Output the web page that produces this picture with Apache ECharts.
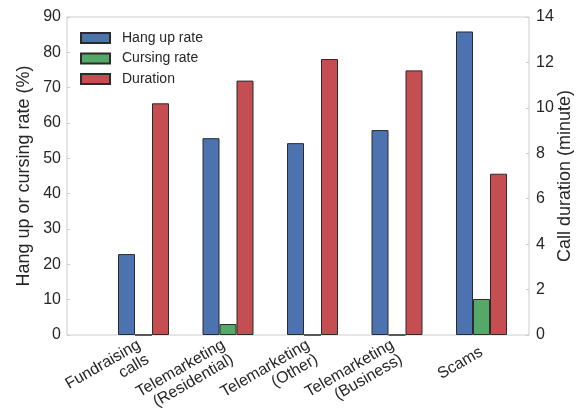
<!DOCTYPE html>
<html>
<head>
<meta charset="utf-8">
<script src="https://cdn.jsdelivr.net/npm/echarts@6/dist/echarts.min.js"></script>
<style>
html,body{margin:0;padding:0;background:#fff;}
#chart{width:581px;height:410px;}
</style>
</head>
<body>
<div id="chart"></div>
<script>
const categories = ['Fundraising\ncalls', 'Telemarketing\n(Residential)', 'Telemarketing\n(Other)', 'Telemarketing\n(Business)', 'Scams'];
const hangUpRate = [22.9, 55.7, 54.3, 58.0, 85.9];
const cursingRate = [0, 3.1, 0, 0, 10.2];
const duration = [10.2, 11.2, 12.15, 11.65, 7.1];
const seriesNames = ['Hang up rate', 'Cursing rate', 'Duration'];
const leftTitle = 'Hang up or cursing rate (%)';
const rightTitle = 'Call duration (minute)';

const FONT = "'Liberation Sans', Arial, sans-serif";
const TXT = '#262626';
const chart = echarts.init(document.getElementById('chart'), null, {renderer: 'canvas'});
const barStyle = (c) => ({color: c, borderColor: '#2b2b2b', borderWidth: 1});

chart.setOption({
  animation: false,
  backgroundColor: '#fff',
  textStyle: {fontFamily: FONT, color: TXT},
  grid: [
    {left: 101.25, top: 17, width: 422.5, height: 318, containLabel: false, outerBoundsMode: 'none'},
    {left: 67, top: 17, width: 462, height: 318, containLabel: false, outerBoundsMode: 'none',
     show: true, borderColor: '#cccccc', borderWidth: 1, backgroundColor: 'transparent'}
  ],
  legend: {
    orient: 'vertical', left: 80, top: 31, padding: 0, icon: 'rect',
    itemWidth: 29, itemHeight: 10, itemGap: 6.5,
    textStyle: {fontSize: 14, color: TXT, fontFamily: FONT, padding: [0, 0, 0, 7]},
    data: seriesNames
  },
  xAxis: [
    {type: 'category', gridIndex: 0, data: categories,
     axisLine: {show: false}, axisTick: {show: false}, splitLine: {show: false},
     axisLabel: {rotate: 30, fontSize: 16, margin: 16, lineHeight: 17, color: TXT, fontFamily: FONT, interval: 0}},
    {type: 'value', gridIndex: 1, show: false, min: 0, max: 1}
  ],
  yAxis: [
    {type: 'value', gridIndex: 0, min: 0, max: 90, show: false},
    {type: 'value', gridIndex: 0, min: 0, max: 14, show: false},
    {type: 'value', gridIndex: 1, min: 0, max: 90, interval: 10, position: 'left',
     name: leftTitle, nameLocation: 'middle', nameGap: 34, nameRotate: 90, nameMoveOverlap: false,
     nameTextStyle: {fontSize: 18, color: TXT, fontFamily: FONT},
     axisLine: {show: false}, splitLine: {show: false},
     axisTick: {show: true, inside: true, length: 3, lineStyle: {color: '#cccccc'}},
     axisLabel: {fontSize: 16, margin: 6, color: TXT, fontFamily: FONT}},
    {type: 'value', gridIndex: 1, min: 0, max: 14, interval: 2, position: 'right',
     name: rightTitle, nameLocation: 'middle', nameGap: 27, nameRotate: 90, nameMoveOverlap: false,
     nameTextStyle: {fontSize: 18, color: TXT, fontFamily: FONT},
     axisLine: {show: false}, splitLine: {show: false},
     axisTick: {show: true, inside: true, length: 3, lineStyle: {color: '#cccccc'}},
     axisLabel: {fontSize: 16, margin: 7, color: TXT, fontFamily: FONT}}
  ],
  series: [
    {name: seriesNames[0], type: 'bar', xAxisIndex: 0, yAxisIndex: 0, data: hangUpRate,
     barWidth: 17, barGap: '0%', itemStyle: barStyle('#4C72B0')},
    {name: seriesNames[1], type: 'bar', xAxisIndex: 0, yAxisIndex: 0, data: cursingRate,
     barWidth: 17, barGap: '0%', itemStyle: barStyle('#55A868')},
    {name: seriesNames[2], type: 'bar', xAxisIndex: 0, yAxisIndex: 1, data: duration,
     barWidth: 17, barGap: '0%', itemStyle: barStyle('#C44E52')}
  ]
});
</script>
</body>
</html>
